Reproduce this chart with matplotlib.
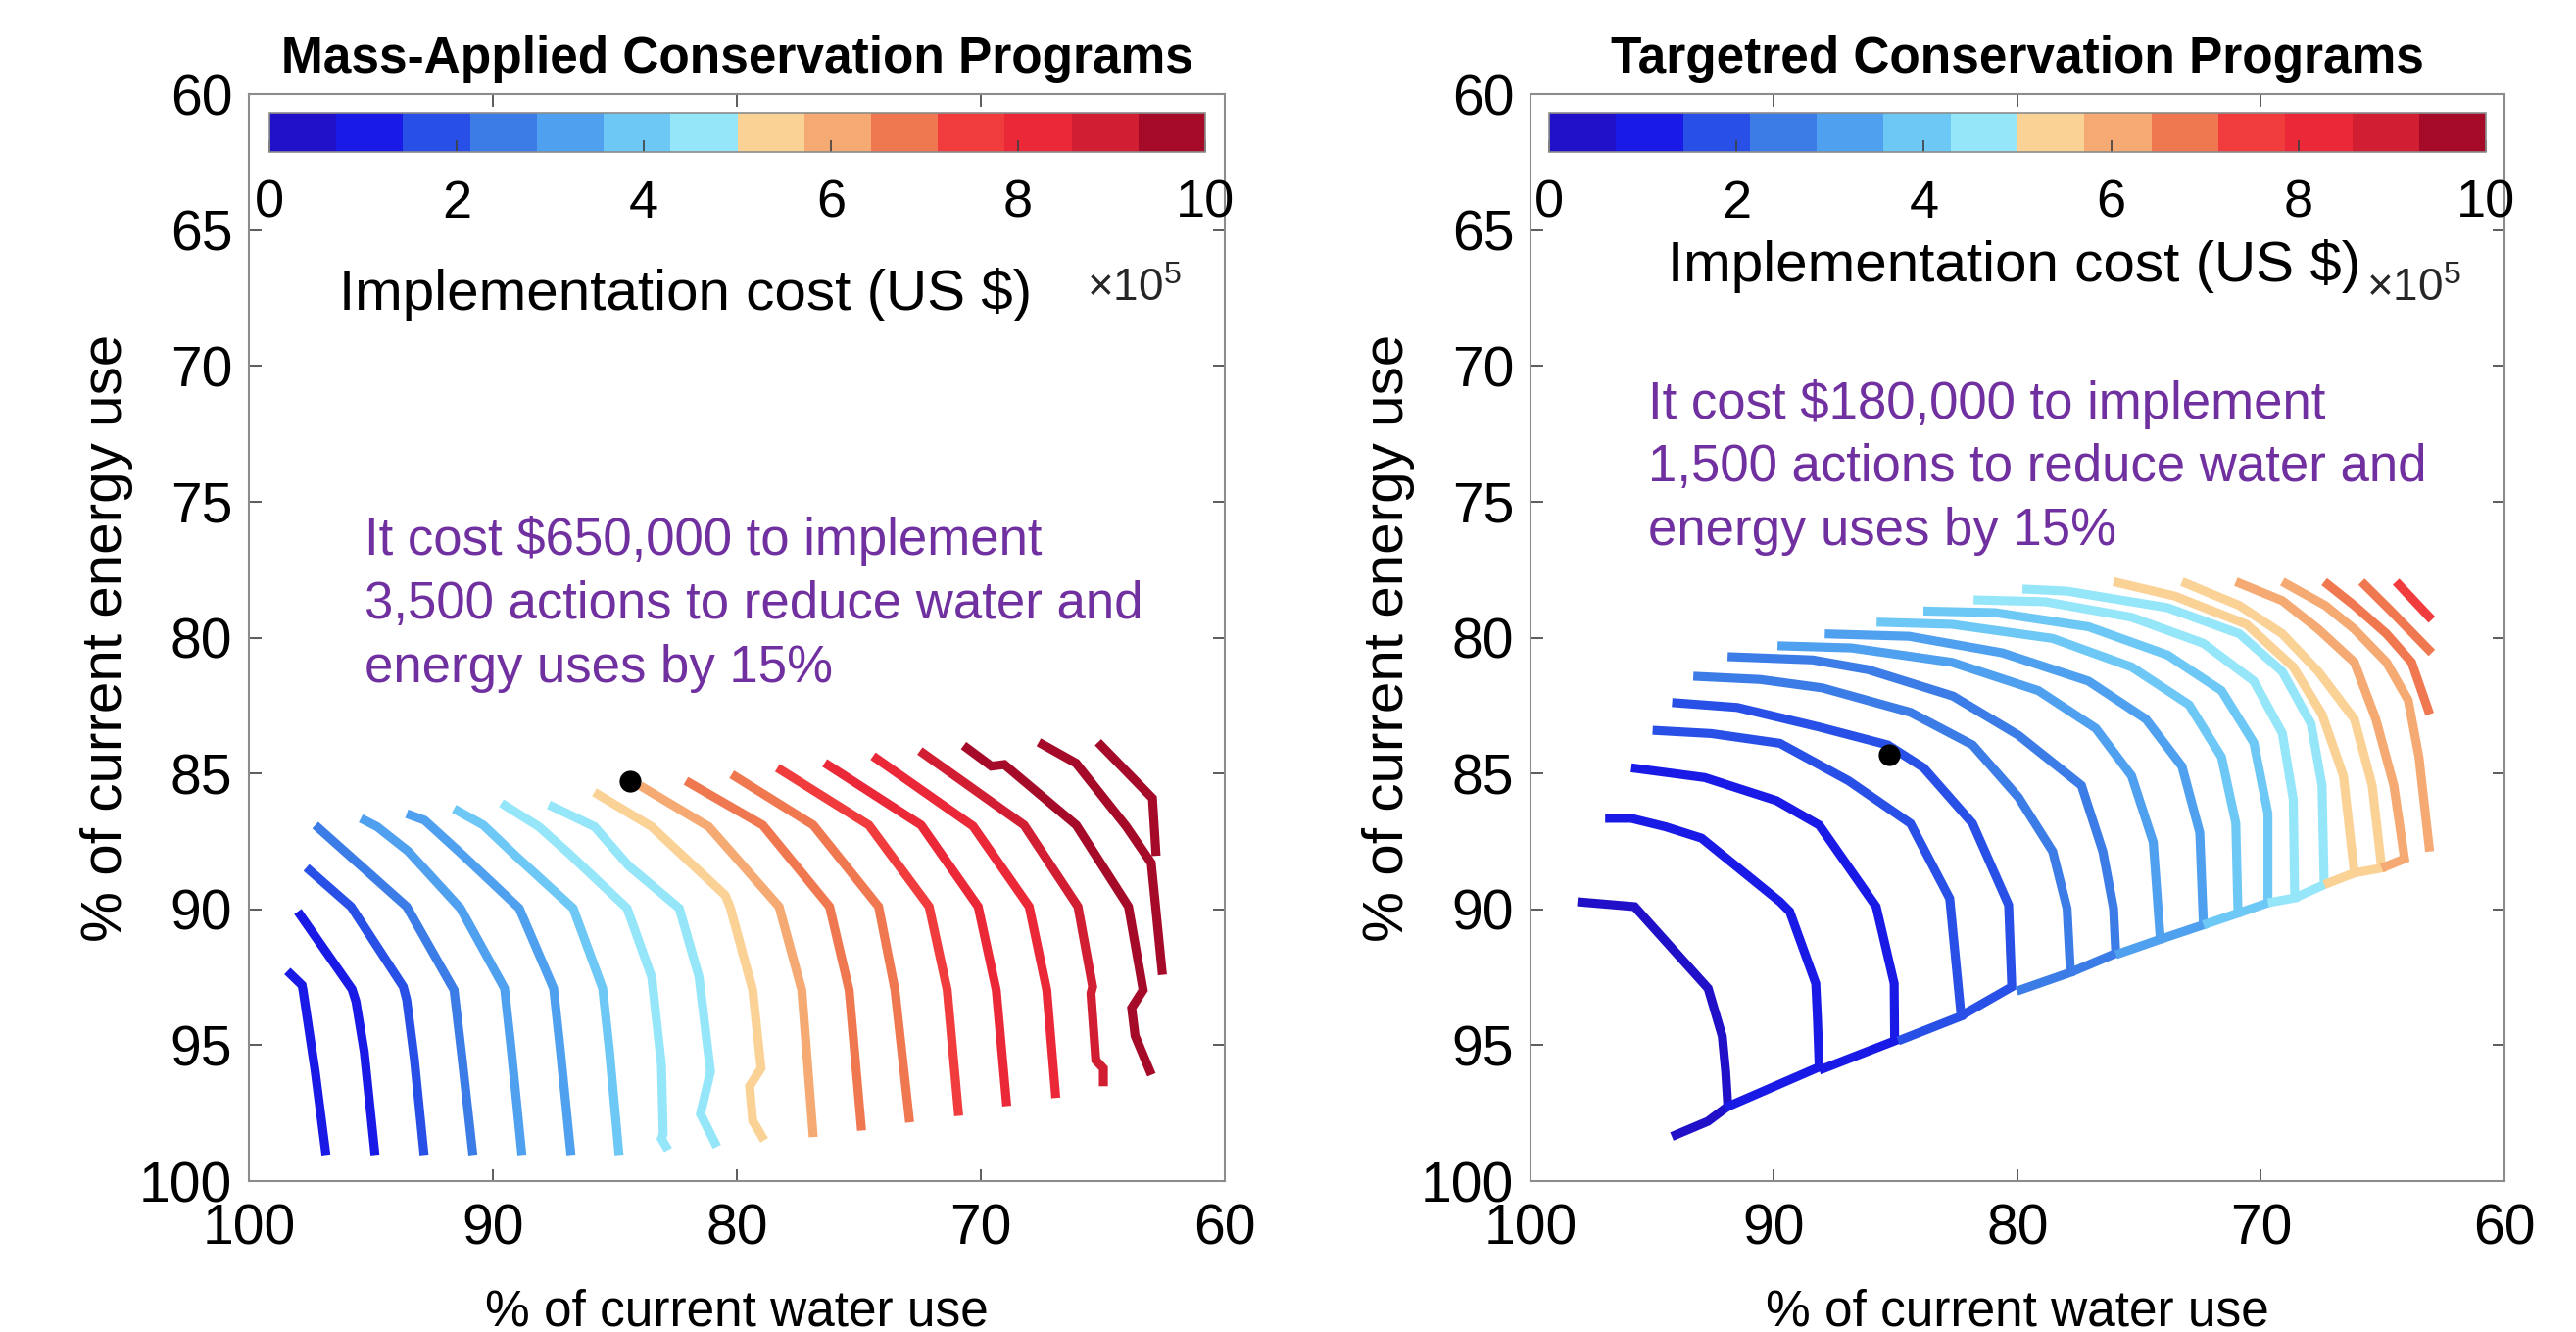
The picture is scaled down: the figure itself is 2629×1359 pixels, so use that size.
import matplotlib.pyplot as plt
import numpy as np
from matplotlib.colors import ListedColormap, Normalize
from matplotlib.cm import ScalarMappable

plt.rcParams['font.family'] = ['Liberation Sans', 'DejaVu Sans']
plt.rcParams['mathtext.fontset'] = 'custom'
plt.rcParams['mathtext.rm'] = 'Liberation Sans'

# colour scale for implementation cost (x 1e5 US $)
cbar_colors = ['#2010c8', '#1a1ae6', '#2850e6', '#3c7ce6', '#50a0f0', '#6ec8f5', '#96e6fa',
               '#fad296', '#f5aa73', '#f07850', '#f03c3c', '#eb2837', '#d21e32', '#a50a28']
cost_ticks = [0, 2, 4, 6, 8, 10]

# mass-applied programs: contour cost (x 1e5 $) and vertices (% water, % energy)
mass_cost = [1.0, 1.3, 1.8, 2.4, 3.0, 3.5, 4.1, 4.6, 4.9, 5.5,
             6.0, 6.6, 7.0, 7.5, 8.0, 8.5, 9.0, 9.5, 10.0, 10.5]
mass_lines = [
    [(98.42, 92.27), (97.82, 92.79), (97.78, 92.97), (97.28, 95.97), (96.84, 99.04)],
    [(97.99, 90.08), (95.77, 92.94), (95.61, 93.39), (95.27, 95.25), (94.83, 99.04)],
    [(97.64, 88.46), (95.81, 89.90), (93.67, 92.85), (93.53, 93.33), (93.22, 95.49), (92.82, 99.04)],
    [(97.28, 86.90), (93.53, 89.90), (91.59, 92.97), (91.26, 95.49), (90.82, 99.04)],
    [(95.41, 86.65), (94.74, 86.96), (93.47, 87.86), (91.33, 89.96), (89.52, 92.91), (89.25, 95.13), (88.81, 99.04)],
    [(93.53, 86.48), (92.80, 86.72), (91.33, 87.92), (88.92, 89.96), (87.51, 92.91), (87.24, 95.13), (86.80, 99.04)],
    [(91.59, 86.30), (90.39, 86.90), (89.05, 88.04), (86.71, 89.96), (85.50, 92.91), (85.23, 95.13), (84.83, 99.04)],
    [(89.65, 86.09), (88.11, 86.96), (86.91, 87.92), (84.50, 89.96), (83.49, 92.49), (83.09, 95.73),
     (83.02, 98.26), (83.09, 98.44), (82.82, 98.86)],
    [(87.71, 86.15), (85.83, 86.96), (84.43, 88.40), (82.36, 89.96), (81.55, 92.49), (81.08, 95.97),
     (81.49, 97.53), (80.82, 98.74)],
    [(85.84, 85.69), (83.49, 86.96), (80.48, 89.48), (80.28, 89.90), (79.35, 92.97), (79.01, 95.85),
     (79.48, 96.51), (79.35, 97.78), (78.88, 98.50)],
    [(83.96, 85.45), (81.15, 86.96), (78.27, 89.90), (77.34, 92.97), (76.87, 98.38)],
    [(82.09, 85.27), (78.94, 86.90), (76.20, 89.90), (75.40, 92.97), (74.89, 98.14)],
    [(80.21, 85.03), (76.87, 86.90), (74.19, 89.90), (73.52, 92.97), (72.92, 97.84)],
    [(78.34, 84.79), (74.59, 86.90), (72.12, 89.90), (71.38, 92.97), (70.91, 97.60)],
    [(76.40, 84.61), (72.45, 86.90), (70.11, 89.90), (69.37, 92.97), (68.94, 97.24)],
    [(74.42, 84.36), (70.32, 86.94), (68.02, 89.90), (67.30, 92.97), (66.93, 96.94)],
    [(72.50, 84.17), (68.23, 86.90), (66.02, 89.90), (65.42, 92.85), (65.49, 93.09), (65.29, 95.55),
     (64.98, 95.85), (64.98, 96.51)],
    [(70.71, 83.97), (69.57, 84.73), (69.04, 84.67), (66.09, 86.90), (63.95, 89.90), (63.35, 92.97),
     (63.82, 93.63), (63.68, 94.65), (63.01, 96.09)],
    [(67.63, 83.85), (66.10, 84.62), (64.05, 86.94), (63.02, 88.29), (62.56, 92.41)],
    [(65.20, 83.85), (62.97, 85.91), (62.82, 88.03)],
]
mass_point = (84.37, 85.27)

# targeted programs
target_cost = [0.36, 0.72, 1.08, 1.44, 1.80, 2.16, 2.52, 2.88, 3.24, 3.60,
               3.96, 4.32, 4.68, 5.04, 5.40, 5.76, 6.12, 6.48, 6.84, 7.20]
target_lines = [
    [(98.07, 89.72), (95.72, 89.90), (92.70, 92.91), (92.12, 94.67), (91.98, 95.98), (91.89, 97.25),
     (92.71, 97.80), (94.19, 98.36)],
    [(96.93, 86.65), (95.86, 86.65), (94.45, 86.96), (92.97, 87.38), (89.75, 89.72), (89.35, 90.08),
     (88.28, 92.73), (88.21, 94.05), (88.14, 95.80), (92.00, 97.30)],
    [(95.86, 84.79), (92.84, 85.15), (89.89, 86.00), (88.14, 86.90), (85.80, 89.90), (85.06, 92.73),
     (85.04, 94.84), (88.14, 95.92)],
    [(94.98, 83.41), (92.57, 83.53), (89.75, 83.89), (86.93, 85.27), (84.39, 86.84), (82.78, 89.60),
     (82.31, 93.93), (84.90, 94.84)],
    [(94.18, 82.39), (91.50, 82.57), (88.14, 83.29), (85.32, 83.95), (83.85, 84.79), (81.84, 86.84),
     (80.36, 89.84), (80.23, 92.85), (82.24, 93.88)],
    [(93.31, 81.42), (90.56, 81.54), (88.01, 81.85), (84.39, 82.75), (81.84, 83.95), (79.96, 85.87),
     (78.55, 87.87), (77.96, 89.97), (77.82, 92.32), (80.03, 93.01)],
    [(91.90, 80.70), (88.41, 80.82), (86.13, 81.18), (82.65, 82.15), (79.96, 83.59), (77.37, 85.44),
     (76.49, 87.87), (76.05, 89.97), (75.96, 91.62), (77.82, 92.32)],
    [(89.85, 80.30), (86.81, 80.38), (82.68, 80.91), (79.14, 81.95), (76.78, 83.34), (75.31, 85.09),
     (74.42, 87.53), (74.13, 91.10), (75.96, 91.67)],
    [(87.91, 79.86), (84.45, 79.95), (80.62, 80.56), (77.08, 81.60), (74.72, 83.00), (73.24, 84.74),
     (72.51, 87.18), (72.36, 90.57), (74.13, 91.10)],
    [(85.78, 79.43), (82.68, 79.51), (78.55, 80.03), (75.31, 81.08), (72.95, 82.47), (71.62, 84.39),
     (71.03, 86.83), (70.94, 90.14), (72.36, 90.57)],
    [(83.86, 79.02), (80.91, 79.08), (77.08, 79.60), (73.83, 80.64), (71.62, 81.95), (70.29, 83.87),
     (69.71, 86.48), (69.71, 89.76), (70.94, 90.14)],
    [(81.80, 78.61), (78.85, 78.68), (75.31, 79.25), (72.36, 80.21), (70.29, 81.60), (69.12, 83.52),
     (68.67, 85.96), (68.61, 89.58), (69.71, 89.76)],
    [(79.79, 78.21), (77.96, 78.29), (73.83, 78.90), (70.88, 79.86), (69.12, 81.25), (67.94, 83.17),
     (67.49, 85.44), (67.40, 89.09), (68.61, 89.58)],
    [(76.05, 77.94), (73.54, 78.47), (70.59, 79.51), (68.67, 81.08), (67.49, 82.82), (66.61, 85.09),
     (66.16, 88.66), (67.40, 89.09)],
    [(73.24, 77.94), (70.88, 78.82), (69.12, 79.86), (67.64, 81.25), (66.16, 83.00), (65.43, 85.44),
     (65.04, 88.48), (66.16, 88.66)],
    [(71.03, 77.94), (69.12, 78.64), (67.64, 79.69), (66.16, 80.91), (65.28, 83.00), (64.54, 85.44),
     (64.10, 88.14), (65.04, 88.48)],
    [(69.12, 77.94), (67.35, 78.82), (66.16, 79.69), (64.84, 80.91), (63.95, 82.30), (63.51, 84.39),
     (63.07, 87.87)],
    [(67.40, 77.94), (66.16, 78.82), (64.84, 79.86), (63.81, 80.91), (63.07, 82.82)],
    [(65.87, 77.94), (64.69, 78.99), (62.98, 80.56)],
    [(64.45, 77.94), (62.98, 79.34)],
]
target_point = (85.26, 84.31)

mass_note = 'It cost $650,000 to implement\n3,500 actions to reduce water and\nenergy uses by 15%'
target_note = 'It cost $180,000 to implement\n1,500 actions to reduce water and\nenergy uses by 15%'

cmap = ListedColormap(cbar_colors)
cmap.set_over(cbar_colors[-1])
cmap.set_under(cbar_colors[0])
norm = Normalize(0, 10)
purple = '#7030a0'
edge = '#8c8c8c'


def draw_panel(ax, title, costs, lines, point, note, note_xy, lab_xy, cb_box):
    for c, pts in zip(costs, lines):
        xy = np.array(pts)
        ax.plot(xy[:, 0], xy[:, 1], color=cmap(norm(c)), lw=6.6,
                solid_capstyle='butt', solid_joinstyle='miter')
    ax.plot(point[0], point[1], 'o', color='k', ms=15, zorder=5)

    ax.set_xlim(100, 60)
    ax.set_ylim(100, 60)
    ax.set_xticks([100, 90, 80, 70, 60])
    ax.set_yticks(np.arange(60, 101, 5))
    ax.tick_params(direction='in', length=9, width=1.2, color='#404040',
                   top=True, right=True, labelsize=41)
    ax.tick_params(axis='x', pad=16)
    ax.tick_params(axis='y', pad=12)
    for s in ax.spines.values():
        s.set_color(edge)
        s.set_linewidth(1.5)
    ax.set_xlabel('% of current water use', fontsize=37, labelpad=24)
    ax.set_ylabel('% of current energy use', fontsize=42, labelpad=4)
    ax.set_title(title, fontsize=37, fontweight='bold', pad=16)

    ax.text(note_xy[0], note_xy[1], note, transform=ax.transAxes, color=purple,
            fontsize=38, ha='left', va='top', linespacing=1.38)

    # colourbar drawn inside the axes
    cax = ax.inset_axes(cb_box)
    cb = plt.colorbar(ScalarMappable(norm=norm, cmap=cmap), cax=cax, orientation='horizontal')
    cb.set_ticks(cost_ticks)
    cb.set_ticklabels([str(t) for t in cost_ticks])
    cb.outline.set_edgecolor(edge)
    cb.outline.set_linewidth(1.2)
    cax.tick_params(direction='in', length=9, width=1.2, color='#404040',
                    labelsize=39, pad=20)
    ax.text(lab_xy[0], lab_xy[1], 'Implementation cost (US $)', transform=ax.transAxes,
            fontsize=42, ha='center', va='baseline')
    ax.text(0.858, lab_xy[2], r'$\times10^5$', transform=ax.transAxes,
            fontsize=33, ha='left', va='baseline', color='#262626')


fig = plt.figure(figsize=(26.29, 13.59), dpi=100)
ax1 = fig.add_axes([0.0966, 0.1133, 0.3789, 0.8160])
ax2 = fig.add_axes([0.5941, 0.1133, 0.3781, 0.8160])

draw_panel(ax1, 'Mass-Applied Conservation Programs', mass_cost, mass_lines, mass_point,
           mass_note, (0.1185, 0.612), (0.4478, 0.802, 0.810), [0.0211, 0.9468, 0.9589, 0.0361])
draw_panel(ax2, 'Targetred Conservation Programs', target_cost, target_lines, target_point,
           target_note, (0.1207, 0.738), (0.497, 0.828, 0.810), [0.0191, 0.9468, 0.9623, 0.0361])

fig.savefig('out.png', dpi=100)
